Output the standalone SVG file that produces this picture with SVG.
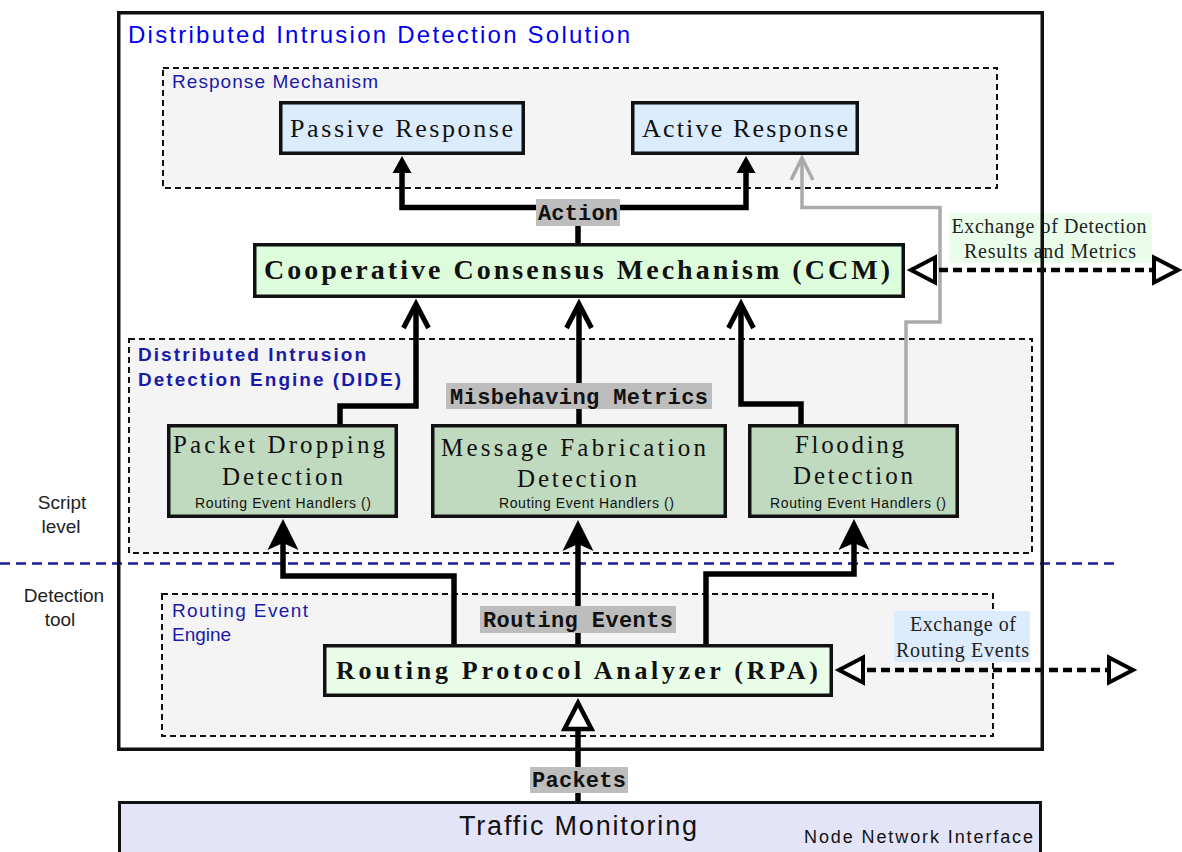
<svg xmlns="http://www.w3.org/2000/svg" width="1182" height="852" viewBox="0 0 1182 852">
<style>
  .container{fill:#f4f4f4;stroke:#111;stroke-width:2;stroke-dasharray:6,4}
  .box{stroke:#111;stroke-width:3.5}
  .resp{fill:#dbecfd}
  .ccm{fill:#ddfcdc}
  .rpa{fill:#e8fce8}
  .det{fill:#c0dac0}
  .serif{font-family:"Liberation Serif","DejaVu Serif",serif;fill:#111}
  .bold{font-weight:bold}
  .sans{font-family:"Liberation Sans",Arial,sans-serif}
  .mono{font-family:"Liberation Mono","Courier New",monospace;font-weight:bold;font-size:22px;fill:#111}
  .tag{fill:#bdbdbd}
  .clabel{font-family:"Liberation Sans",Arial,sans-serif;font-size:19px;fill:#1a1aa8}
  .side{font-family:"Liberation Sans",Arial,sans-serif;font-size:19px;fill:#222;text-anchor:middle}
  .hand{font-family:"Liberation Sans",Arial,sans-serif;font-size:14px;fill:#111;text-anchor:middle}
  .mid{text-anchor:middle}
  .conn{fill:none;stroke:#000;stroke-width:5.5}
  .grey{fill:none;stroke:#aaaaaa;stroke-width:3.5}
  .dot{fill:none;stroke:#000;stroke-width:4.5;stroke-dasharray:9,5}
  .xlabel{font-family:"Liberation Serif","DejaVu Serif",serif;font-size:20px;fill:#222;text-anchor:middle}
</style>
<defs>
  <marker id="tri" markerUnits="userSpaceOnUse" markerWidth="20" markerHeight="20" refX="2" refY="9.5" orient="auto" overflow="visible">
    <path d="M0,0 L17,9.5 L0,19 Z" fill="#000"/>
  </marker>
  <marker id="vee" markerUnits="userSpaceOnUse" markerWidth="32" markerHeight="30" refX="21" refY="12.5" orient="auto" overflow="visible">
    <path d="M0,0 L24,12.5 L0,25" fill="none" stroke="#000" stroke-width="5"/>
  </marker>
  <marker id="stealth" markerUnits="userSpaceOnUse" markerWidth="32" markerHeight="32" refX="7" refY="15.5" orient="auto" overflow="visible">
    <path d="M31,15.5 L0,0 L7,15.5 L0,31 Z" fill="#000"/>
  </marker>
  <marker id="greyvee" markerUnits="userSpaceOnUse" markerWidth="26" markerHeight="24" refX="21" refY="11" orient="auto" overflow="visible">
    <path d="M0,0 L22,11 L0,22" fill="none" stroke="#aaaaaa" stroke-width="3.5"/>
  </marker>
  <marker id="otri" markerUnits="userSpaceOnUse" markerWidth="26" markerHeight="26" refX="24" refY="12.5" orient="auto-start-reverse" overflow="visible">
    <path d="M0,0 L24,12.5 L0,25 Z" fill="#fff" stroke="#000" stroke-width="4"/>
  </marker>
  <marker id="otri2" markerUnits="userSpaceOnUse" markerWidth="28" markerHeight="28" refX="0" refY="13.5" orient="auto" overflow="visible">
    <path d="M0,0 L26,13.5 L0,27 Z" fill="#fff" stroke="#000" stroke-width="4.5"/>
  </marker>
</defs>

<rect x="0" y="0" width="1182" height="852" fill="#fff"/>

<!-- containers -->
<g id="response-mechanism">
  <rect class="container" x="163" y="68" width="834" height="120"/>
  <text class="clabel" x="172" y="88" textLength="206">Response Mechanism</text>
</g>
<g id="dide">
  <rect class="container" x="129" y="339" width="903" height="214"/>
  <text class="clabel bold" x="138" y="361" textLength="228" fill="#0a0aa0">Distributed Intrusion</text>
  <text class="clabel bold" x="138" y="386" textLength="263" fill="#0a0aa0">Detection Engine (DIDE)</text>
</g>
<g id="routing-event-engine">
  <rect class="container" x="162" y="594" width="831" height="142"/>
  <text class="clabel" x="172" y="617" textLength="136">Routing Event</text>
  <text class="clabel" x="172" y="641">Engine</text>
</g>

<!-- separator and level labels -->
<g id="levels">
  <line x1="0" y1="563.5" x2="1118" y2="563.5" stroke="#1a1aa0" stroke-width="2.5" stroke-dasharray="10,6"/>
  <text class="side" x="62" y="509">Script</text>
  <text class="side" x="61" y="533">level</text>
  <text class="side" x="64" y="602">Detection</text>
  <text class="side" x="60" y="626">tool</text>
</g>

<!-- connectors -->
<g id="connectors">
  <path class="conn" d="M578,243 L578,207.5 L402,207.5 L402,171" marker-end="url(#tri)"/>
  <path class="conn" d="M578,207.5 L746,207.5 L746,171" marker-end="url(#tri)"/>
  <path class="conn" d="M340,424 L340,406 L416,406 L416,307" marker-end="url(#vee)"/>
  <path class="conn" d="M579,424 L579,307" marker-end="url(#vee)"/>
  <path class="conn" d="M801,424 L801,404 L741,404 L741,307" marker-end="url(#vee)"/>
  <path class="grey" d="M906,424 L906,322 L940,322 L940,207.5 L802,207.5 L802,159" marker-end="url(#greyvee)"/>
  <path class="conn" d="M454,644 L454,576 L283,576 L283,543" marker-end="url(#stealth)"/>
  <path class="conn" d="M578,644 L578,544" marker-end="url(#stealth)"/>
  <path class="conn" d="M706,644 L706,574 L854,574 L854,543" marker-end="url(#stealth)"/>
  <path class="conn" d="M578,802 L578,729" marker-end="url(#otri2)"/>
  <path class="dot" d="M911,270 L1178,270" marker-start="url(#otri)" marker-end="url(#otri)"/>
  <path class="dot" d="M839,670 L1133,670" marker-start="url(#otri)" marker-end="url(#otri)"/>
</g>

<!-- nodes -->
<g id="passive-response">
  <rect class="box resp" x="280.75" y="102.75" width="242.5" height="50.5"/>
  <text class="serif mid" x="401.5" y="137" font-size="26" textLength="223">Passive Response</text>
</g>
<g id="active-response">
  <rect class="box resp" x="632.75" y="102.75" width="224.5" height="50.5"/>
  <text class="serif mid" x="745" y="137" font-size="26" textLength="206">Active Response</text>
</g>
<g id="ccm">
  <rect class="box ccm" x="254.75" y="244.75" width="648.5" height="51.5"/>
  <text class="serif bold mid" x="577" y="279" font-size="28" textLength="626">Cooperative Consensus Mechanism (CCM)</text>
</g>
<g id="packet-dropping">
  <rect class="box det" x="168.75" y="425.75" width="227.5" height="90.5"/>
  <text class="serif mid" x="279" y="453" font-size="25" textLength="212">Packet Dropping</text>
  <text class="serif mid" x="282.5" y="485" font-size="25" textLength="121">Detection</text>
  <text class="hand" x="283" y="508" textLength="176">Routing Event Handlers ()</text>
</g>
<g id="message-fabrication">
  <rect class="box det" x="432.75" y="425.75" width="292.5" height="90.5"/>
  <text class="serif mid" x="573.5" y="456" font-size="25" textLength="265">Message Fabrication</text>
  <text class="serif mid" x="577" y="487" font-size="25" textLength="120">Detection</text>
  <text class="hand" x="586.5" y="508" textLength="175">Routing Event Handlers ()</text>
</g>
<g id="flooding">
  <rect class="box det" x="749.75" y="425.75" width="207.5" height="90.5"/>
  <text class="serif mid" x="849.5" y="453" font-size="25" textLength="109">Flooding</text>
  <text class="serif mid" x="853" y="484" font-size="25" textLength="120">Detection</text>
  <text class="hand" x="858" y="508" textLength="176">Routing Event Handlers ()</text>
</g>
<g id="rpa">
  <rect class="box rpa" x="324.75" y="645.75" width="506.5" height="49.5"/>
  <text class="serif bold mid" x="577" y="679" font-size="26" textLength="482">Routing Protocol Analyzer (RPA)</text>
</g>
<g id="traffic-monitoring">
  <rect x="119.5" y="802.5" width="921" height="60" fill="#e4e4f8" stroke="#111" stroke-width="3"/>
  <text class="sans mid" x="578" y="835" font-size="27" fill="#111" textLength="238">Traffic Monitoring</text>
  <text class="sans" x="804" y="843" font-size="18" fill="#111" textLength="229">Node Network Interface</text>
</g>

<!-- connector labels -->
<g id="labels">
  <rect class="tag" x="536" y="199" width="84" height="27"/>
  <text class="mono mid" x="578" y="220" textLength="80">Action</text>
  <rect class="tag" x="446" y="383" width="266" height="26"/>
  <text class="mono mid" x="579" y="404" textLength="258">Misbehaving Metrics</text>
  <rect class="tag" x="480" y="606" width="196" height="27"/>
  <text class="mono mid" x="578" y="627" textLength="190">Routing Events</text>
  <rect class="tag" x="530" y="767" width="98" height="26"/>
  <text class="mono mid" x="579" y="787" textLength="94">Packets</text>
  <rect x="949" y="213" width="203" height="50" fill="#eafcea"/>
  <text class="xlabel" x="1049" y="233" textLength="195">Exchange of Detection</text>
  <text class="xlabel" x="1050" y="258" textLength="172">Results and Metrics</text>
  <rect x="894" y="611" width="136" height="51" fill="#dcecfc"/>
  <text class="xlabel" x="963" y="631" textLength="106">Exchange of</text>
  <text class="xlabel" x="962.5" y="657" textLength="133">Routing Events</text>
</g>

<!-- outer solution frame -->
<g id="solution">
  <rect x="118.75" y="12.75" width="923.5" height="736.5" fill="none" stroke="#111" stroke-width="3.5"/>
  <text class="sans" x="128" y="43" font-size="24" fill="#0000ee" textLength="502">Distributed Intrusion Detection Solution</text>
</g>
</svg>
